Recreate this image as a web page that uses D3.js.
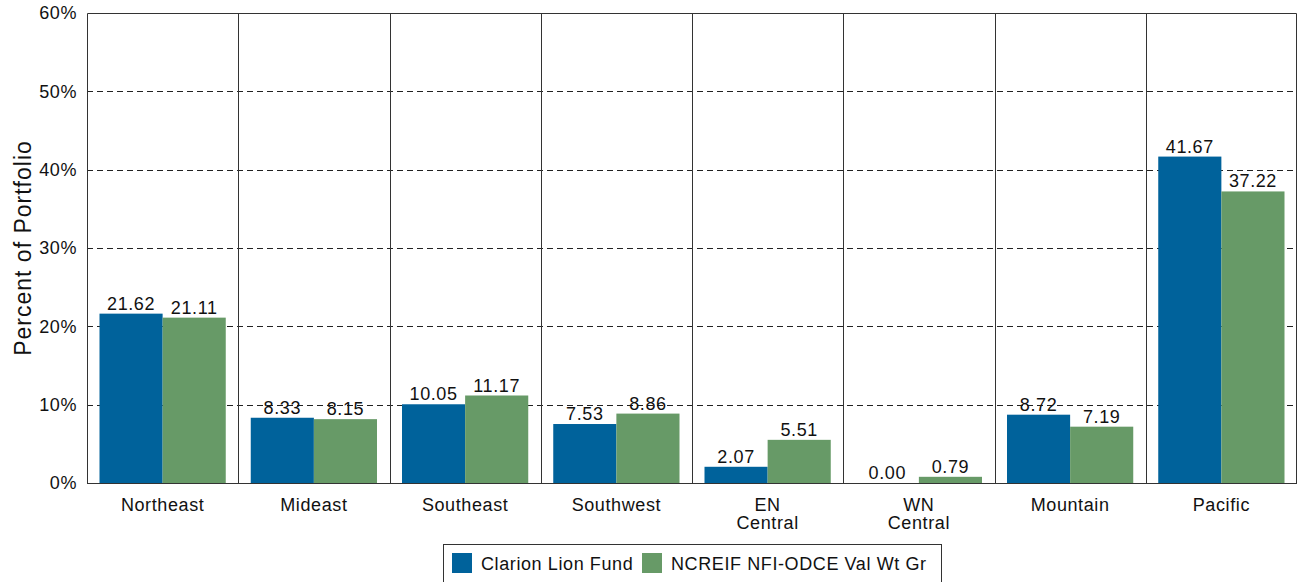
<!DOCTYPE html>
<html>
<head>
<meta charset="utf-8">
<script src="https://cdn.jsdelivr.net/npm/d3@7"></script>
<style>
  body { margin: 0; background: #fff; }
  text { font-family: Arial, "Liberation Sans", sans-serif; fill: #111; letter-spacing: 0.6px; }
</style>
</head>
<body>
<div class="js-chart"></div>
<script>
var regions = ['Northeast', 'Mideast', 'Southeast', 'Southwest', 'EN\nCentral', 'WN\nCentral', 'Mountain', 'Pacific'];
var fundValues = [21.62, 8.33, 10.05, 7.53, 2.07, 0.00, 8.72, 41.67];
var indexValues = [21.11, 8.15, 11.17, 8.86, 5.51, 0.79, 7.19, 37.22];
var seriesNames = ['Clarion Lion Fund', 'NCREIF NFI-ODCE Val Wt Gr'];
var seriesColors = ['#00629b', '#679a67'];
var yTicks = [0, 10, 20, 30, 40, 50, 60];

var width = 1303, height = 582;
var plotLeft = 87, plotRight = 1297, plotTop = 13, plotBottom = 483;

var svg = d3.select('.js-chart')
  .append('svg')
  .attr('width', width)
  .attr('height', height);

var x = d3.scaleBand()
  .domain(regions)
  .range([plotLeft, plotRight])
  .paddingInner(0)
  .paddingOuter(0);

var xs = d3.scaleBand()
  .domain([0, 1])
  .range([0, x.bandwidth()])
  .paddingOuter(0.198)
  .paddingInner(0);

var y = d3.scaleLinear()
  .domain([0, 60])
  .range([plotBottom, plotTop]);

// dashed horizontal grid
svg.append('g')
  .selectAll('line')
  .data(yTicks.filter(function(d) { return d > 0 && d < 60; }))
  .enter()
  .append('line')
  .attr('x1', plotLeft)
  .attr('x2', plotRight)
  .attr('y1', function(d) { return Math.round(y(d)) + 0.5; })
  .attr('y2', function(d) { return Math.round(y(d)) + 0.5; })
  .attr('stroke', '#222')
  .attr('stroke-dasharray', '6,4');

// vertical separators
svg.append('g')
  .selectAll('line')
  .data(regions.slice(1))
  .enter()
  .append('line')
  .attr('x1', function(d) { return Math.round(x(d)) + 0.5; })
  .attr('x2', function(d) { return Math.round(x(d)) + 0.5; })
  .attr('y1', plotTop)
  .attr('y2', plotBottom)
  .attr('stroke', '#333');

var rows = regions.map(function(r, i) {
  return { region: r, values: [fundValues[i], indexValues[i]] };
});

var groups = svg.append('g')
  .selectAll('g')
  .data(rows)
  .enter()
  .append('g')
  .attr('transform', function(d) { return 'translate(' + x(d.region) + ',0)'; });

groups.selectAll('rect')
  .data(function(d) { return d.values; })
  .enter()
  .append('rect')
  .attr('x', function(d, i) { return xs(i); })
  .attr('y', function(d) { return y(d); })
  .attr('width', xs.bandwidth())
  .attr('height', function(d) { return plotBottom - y(d); })
  .attr('fill', function(d, i) { return seriesColors[i]; });

groups.selectAll('text.val')
  .data(function(d) { return d.values; })
  .enter()
  .append('text')
  .attr('class', 'val')
  .attr('x', function(d, i) { return xs(i) + xs.bandwidth() / 2; })
  .attr('y', function(d) { return y(d) - 4; })
  .attr('text-anchor', 'middle')
  .style('font-size', '18px')
  .text(function(d) { return d.toFixed(2); });

// frame
svg.append('path')
  .attr('d', 'M' + (plotLeft + 0.5) + ',' + plotBottom + 'V' + (plotTop + 0.5) + 'H' + (plotRight - 0.5) + 'V' + plotBottom)
  .attr('fill', 'none')
  .attr('stroke', '#333');

svg.append('line')
  .attr('x1', plotLeft)
  .attr('x2', plotRight)
  .attr('y1', plotBottom + 0.5)
  .attr('y2', plotBottom + 0.5)
  .attr('stroke', '#333');

// y axis labels
svg.append('g')
  .selectAll('text')
  .data(yTicks)
  .enter()
  .append('text')
  .attr('x', plotLeft - 10)
  .attr('y', function(d) { return y(d); })
  .attr('dy', '0.35em')
  .attr('text-anchor', 'end')
  .style('font-size', '18px')
  .text(function(d) { return d + '%'; });

svg.append('text')
  .attr('transform', 'translate(31,' + ((plotTop + plotBottom) / 2) + ') rotate(-90)')
  .attr('text-anchor', 'middle')
  .style('font-size', '23px')
  .style('letter-spacing', '1px')
  .text('Percent of Portfolio');

// x labels
var xl = svg.append('g')
  .selectAll('text')
  .data(regions)
  .enter()
  .append('text')
  .attr('x', function(d) { return x(d) + x.bandwidth() / 2; })
  .attr('y', 511)
  .attr('text-anchor', 'middle')
  .style('font-size', '18px');

xl.selectAll('tspan')
  .data(function(d) { return d.split('\n'); })
  .enter()
  .append('tspan')
  .attr('x', function() { return d3.select(this.parentNode).attr('x'); })
  .attr('dy', function(d, i) { return i === 0 ? 0 : 18; })
  .text(function(d) { return d; });

// legend
var legend = svg.append('g');
legend.append('rect')
  .attr('x', 443.5)
  .attr('y', 544.5)
  .attr('width', 498)
  .attr('height', 40)
  .attr('fill', '#fff')
  .attr('stroke', '#333');

var legendX = [452, 642];
seriesNames.forEach(function(name, i) {
  legend.append('rect')
    .attr('x', legendX[i])
    .attr('y', 553)
    .attr('width', 20)
    .attr('height', 20)
    .attr('fill', seriesColors[i]);
  legend.append('text')
    .attr('x', legendX[i] + 29)
    .attr('y', 570)
    .style('font-size', '18px')
    .text(name);
});
</script>
</body>
</html>
